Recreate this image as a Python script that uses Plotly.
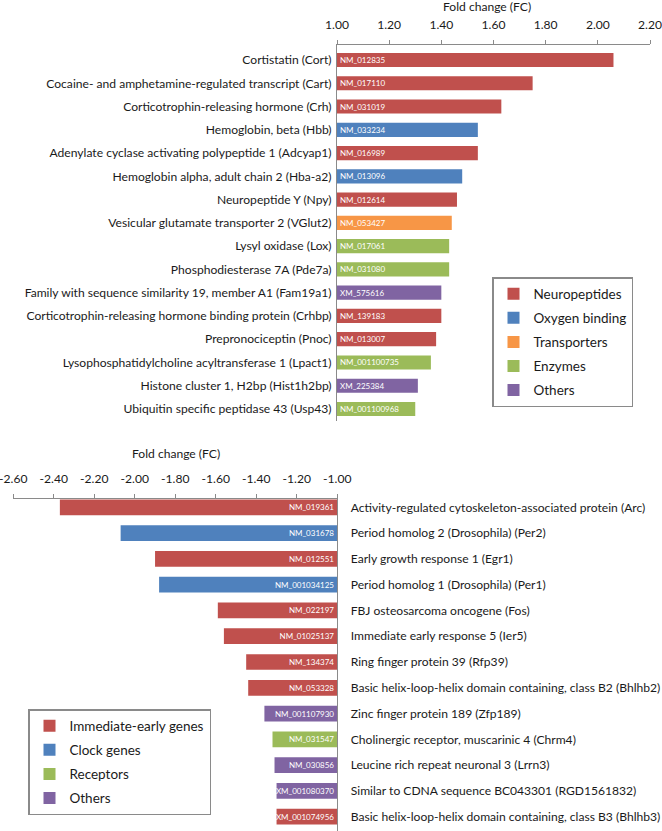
import plotly.graph_objects as go

# ---------------- data ----------------
genes_top = [
    "Cortistatin (Cort)",
    "Cocaine- and amphetamine-regulated transcript (Cart)",
    "Corticotrophin-releasing hormone (Crh)",
    "Hemoglobin, beta (Hbb)",
    "Adenylate cyclase activating polypeptide 1 (Adcyap1)",
    "Hemoglobin alpha, adult chain 2 (Hba-a2)",
    "Neuropeptide Y (Npy)",
    "Vesicular glutamate transporter 2 (VGlut2)",
    "Lysyl oxidase (Lox)",
    "Phosphodiesterase 7A (Pde7a)",
    "Family with sequence similarity 19, member A1 (Fam19a1)",
    "Corticotrophin-releasing hormone binding protein (Crhbp)",
    "Prepronociceptin (Pnoc)",
    "Lysophosphatidylcholine acyltransferase 1 (Lpact1)",
    "Histone cluster 1, H2bp (Hist1h2bp)",
    "Ubiquitin specific peptidase 43 (Usp43)",
]
acc_top = ["NM_012835", "NM_017110", "NM_031019", "NM_033234", "NM_016989",
           "NM_013096", "NM_012614", "NM_053427", "NM_017061", "NM_031080",
           "XM_575616", "NM_139183", "NM_013007", "NM_001100735", "XM_225384",
           "NM_001100968"]
fc_top = [2.06, 1.75, 1.63, 1.54, 1.54, 1.48, 1.46, 1.44, 1.43, 1.43,
          1.40, 1.40, 1.38, 1.36, 1.31, 1.30]
cat_top = ["Neuropeptides", "Neuropeptides", "Neuropeptides", "Oxygen binding",
           "Neuropeptides", "Oxygen binding", "Neuropeptides", "Transporters",
           "Enzymes", "Enzymes", "Others", "Neuropeptides", "Neuropeptides",
           "Enzymes", "Others", "Enzymes"]
groups_top = ["Neuropeptides", "Oxygen binding", "Transporters", "Enzymes", "Others"]

genes_bot = [
    "Activity-regulated cytoskeleton-associated protein (Arc)",
    "Period homolog 2 (Drosophila) (Per2)",
    "Early growth response 1 (Egr1)",
    "Period homolog 1 (Drosophila) (Per1)",
    "FBJ osteosarcoma oncogene (Fos)",
    "Immediate early response 5 (Ier5)",
    "Ring finger protein 39 (Rfp39)",
    "Basic helix-loop-helix domain containing, class B2 (Bhlhb2)",
    "Zinc finger protein 189 (Zfp189)",
    "Cholinergic receptor, muscarinic 4 (Chrm4)",
    "Leucine rich repeat neuronal 3 (Lrrn3)",
    "Similar to CDNA sequence BC043301 (RGD1561832)",
    "Basic helix-loop-helix domain containing, class B3 (Bhlhb3)",
]
acc_bot = ["NM_019361", "NM_031678", "NM_012551", "NM_001034125", "NM_022197",
           "NM_01025137", "NM_134374", "NM_053328", "NM_001107930", "NM_031547",
           "NM_030856", "XM_001080370", "XM_001074956"]
fc_bot = [-2.37, -2.07, -1.90, -1.88, -1.59, -1.56, -1.45, -1.44, -1.36,
          -1.32, -1.31, -1.30, -1.30]
cat_bot = ["Immediate-early genes", "Clock genes", "Immediate-early genes",
           "Clock genes", "Immediate-early genes", "Immediate-early genes",
           "Immediate-early genes", "Immediate-early genes", "Others",
           "Receptors", "Others", "Others", "Immediate-early genes"]
groups_bot = ["Immediate-early genes", "Clock genes", "Receptors", "Others"]

ticks_top = [1.00, 1.20, 1.40, 1.60, 1.80, 2.00, 2.20]
ticks_bot = [-2.60, -2.40, -2.20, -2.00, -1.80, -1.60, -1.40, -1.20, -1.00]
axis_title = "Fold change (FC)"

# ---------------- style ----------------
colors = {
    "Neuropeptides": "#C0504D", "Oxygen binding": "#4F81BD",
    "Transporters": "#F79646", "Enzymes": "#9BBB59", "Others": "#8064A2",
    "Immediate-early genes": "#C0504D", "Clock genes": "#4F81BD",
    "Receptors": "#9BBB59",
}
W, H = 662, 831
FONT = "Lato"
TXT = "#1a1a1a"
GRAY = "#8a8a8a"
LBL = 12.1
BARTXT = 8.0


def px_x(p):
    return p / W


def px_y(p):
    return 1 - p / H


fig = go.Figure()

for k, g in enumerate(groups_top):
    idx = [i for i, c in enumerate(cat_top) if c == g]
    fig.add_trace(go.Bar(
        y=[genes_top[i] for i in idx],
        x=[fc_top[i] - 1.0 for i in idx],
        base=1.0,
        orientation="h",
        text=[acc_top[i] for i in idx],
        textposition="inside",
        insidetextanchor="start",
        textangle=0,
        textfont=dict(family=FONT, size=BARTXT, color="white"),
        marker=dict(color=colors[g], line=dict(width=0)),
        width=0.61,
        name=g,
        legend="legend",
        legendgroup=f"t{k}",
        xaxis="x", yaxis="y",
    ))

for k, g in enumerate(groups_bot):
    idx = [i for i, c in enumerate(cat_bot) if c == g]
    fig.add_trace(go.Bar(
        y=[genes_bot[i] for i in idx],
        x=[fc_bot[i] + 1.0 for i in idx],
        base=-1.0,
        orientation="h",
        text=[acc_bot[i] for i in idx],
        textposition="inside",
        insidetextanchor="start",
        textangle=0,
        textfont=dict(family=FONT, size=BARTXT, color="white"),
        marker=dict(color=colors[g], line=dict(width=0)),
        width=0.61,
        name=g,
        legend="legend2",
        legendgroup=f"b{k}",
        xaxis="x2", yaxis="y2",
    ))

axis_common = dict(showgrid=False, zeroline=False, showline=True,
                   linecolor=GRAY, linewidth=1, automargin=False,
                   ticklabeloverflow="allow",
                   tickfont=dict(family=FONT, size=LBL, color=TXT))

legend_common = dict(xanchor="left", yanchor="top",
                     bordercolor=GRAY, borderwidth=1.5, bgcolor="white",
                     font=dict(family=FONT, size=13.5, color=TXT),
                     traceorder="grouped", tracegroupgap=3.5, itemwidth=30)

fig.update_layout(
    width=W, height=H,
    margin=dict(l=0, r=0, t=0, b=0, autoexpand=False),
    paper_bgcolor="white", plot_bgcolor="white",
    barmode="overlay",
    font=dict(family=FONT, size=LBL, color=TXT),
    uniformtext=dict(minsize=BARTXT, mode="show"),
    xaxis=dict(domain=[px_x(337), px_x(650)], range=[1.0, 2.2],
               side="top", anchor="y",
               tickvals=ticks_top, ticktext=[f"{v:.2f}" for v in ticks_top],
               ticks="outside", ticklen=4, tickcolor=GRAY,
               ticklabelstandoff=6, **axis_common),
    yaxis=dict(domain=[px_y(421), px_y(45)], anchor="x", type="category",
               categoryorder="array", categoryarray=genes_top,
               range=[15.515, -0.644], ticks="", ticklabelstandoff=2,
               **axis_common),
    xaxis2=dict(domain=[px_x(13.3), px_x(337.3)], range=[-2.6, -1.0],
                side="top", anchor="y2",
                tickvals=ticks_bot, ticktext=[f"{v:.2f}" for v in ticks_bot],
                ticks="outside", ticklen=4, tickcolor=GRAY,
                ticklabelstandoff=6, **axis_common),
    yaxis2=dict(domain=[0, px_y(499)], anchor="x2", side="right",
                type="category", categoryorder="array",
                categoryarray=genes_bot, range=[12.554, -0.322], ticks="",
                ticklabelstandoff=10, **axis_common),
    legend=dict(x=px_x(492), y=px_y(277), **legend_common),
    legend2=dict(x=px_x(28), y=px_y(709), **legend_common),
    annotations=[
        dict(text=axis_title, x=px_x(487), y=px_y(7), xref="paper",
             yref="paper", showarrow=False, xanchor="center",
             yanchor="middle", font=dict(family=FONT, size=LBL, color=TXT)),
        dict(text=axis_title, x=px_x(175.5), y=px_y(453), xref="paper",
             yref="paper", showarrow=False, xanchor="center",
             yanchor="middle", font=dict(family=FONT, size=LBL, color=TXT)),
    ],
)

fig.write_html("out.html",
               config={"displayModeBar": False},
               post_script="document.body.style.margin='0';"
                           "document.body.style.padding='0';")
